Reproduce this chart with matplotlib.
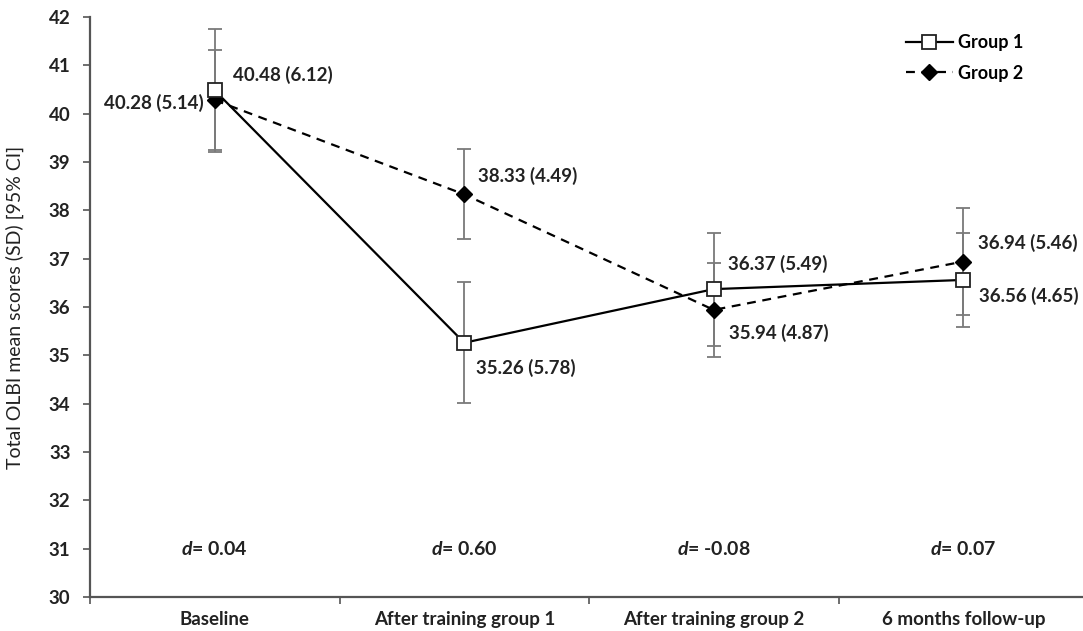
import matplotlib
matplotlib.use("Agg")
import matplotlib.pyplot as plt
import numpy as np

categories = ["Baseline", "After training group 1", "After training group 2", "6 months follow-up"]
g1_mean = [40.48, 35.26, 36.37, 36.56]
g1_sd = [6.12, 5.78, 5.49, 4.65]
g1_ci = [1.28, 1.25, 1.17, 0.98]
g2_mean = [40.28, 38.33, 35.94, 36.94]
g2_sd = [5.14, 4.49, 4.87, 5.46]
g2_ci = [1.04, 0.93, 0.98, 1.11]
d_values = ["0.04", "0.60", "-0.08", "0.07"]
yticks = list(range(30, 43))

plt.rcParams['font.family'] = ['Lato', 'DejaVu Sans']
plt.rcParams['mathtext.fontset'] = 'custom'
plt.rcParams['mathtext.it'] = 'Lato:bold:italic'
plt.rcParams['mathtext.rm'] = 'Lato:bold'

W, H = 1083, 631
fig = plt.figure(figsize=(W / 100, H / 100), dpi=100)
x0, x1 = 90, 1088
y_top, y_bot = 17, 597
ax = fig.add_axes([x0 / W, (H - y_bot) / H, (x1 - x0) / W, (y_bot - y_top) / H])

x = np.arange(len(categories))
ecol = "#7a7a7a"
ax.errorbar(x, g1_mean, yerr=g1_ci, fmt='none', ecolor=ecol, elinewidth=1.3,
            capsize=5, capthick=1.3, zorder=2)
ax.errorbar(x, g2_mean, yerr=g2_ci, fmt='none', ecolor=ecol, elinewidth=1.3,
            capsize=5, capthick=1.3, zorder=2)
ax.plot(x, g1_mean, color='black', lw=1.6, marker='s', markersize=10,
        markerfacecolor='white', markeredgecolor='#222222', markeredgewidth=1.3,
        label='Group 1', zorder=4)
ax.plot(x, g2_mean, color='black', lw=1.6, ls=(0, (4, 3)), marker='D', markersize=8,
        markerfacecolor='black', markeredgecolor='black', label='Group 2', zorder=3)

ax.set_xlim(-0.5, 3.5)
ax.set_ylim(30, 42)
ax.set_yticks(yticks)
ax.set_yticklabels([str(t) for t in yticks], fontsize=13.5, fontweight='bold', color='#222222')
ax.set_xticks(x)
ax.set_xticklabels(categories, fontsize=13.5, fontweight='bold', color='#222222')
ax.set_xticks(np.arange(-0.5, 3.6, 1.0), minor=True)
ax.tick_params(axis='x', which='major', length=0, pad=10)
ax.tick_params(axis='x', which='minor', length=5, width=1.2, color='#555555', direction='out')
ax.tick_params(axis='y', length=5, width=1.2, color='#555555', direction='out', pad=9)
for s in ['top', 'right']:
    ax.spines[s].set_visible(False)
for s in ['left', 'bottom']:
    ax.spines[s].set_color('#555555')
    ax.spines[s].set_linewidth(1.6)
ax.set_ylabel("Total OLBI mean scores (SD) [95% CI]", fontsize=14, color='#222222')
ax.yaxis.set_label_coords(-0.066, 0.5)

def lab(xi, m, sd, dx, dy, ha):
    ax.annotate(f"{m:.2f} ({sd:.2f})", (xi, m), xytext=(dx, dy), textcoords='offset pixels',
                ha=ha, va='center', fontsize=13.5, fontweight='bold', color='#222222')

g1_off = [(18, 16, 'left'), (12, -25, 'left'), (14, 25, 'left'), (16, -16, 'left')]
g2_off = [(-11, -3, 'right'), (14, 18, 'left'), (15, -23, 'left'), (15, 19, 'left')]
for i in range(4):
    lab(x[i], g1_mean[i], g1_sd[i], *g1_off[i])
    lab(x[i], g2_mean[i], g2_sd[i], *g2_off[i])

for i in range(4):
    ax.text(x[i], 31, f"$d$= {d_values[i]}", ha='center', va='center', fontsize=14,
            fontweight='bold', color='#222222')

ax.legend(loc='upper right', bbox_to_anchor=(1040 / W, 1 - 18 / H), bbox_transform=fig.transFigure,
          frameon=False, prop={'weight': 'bold', 'size': 13}, handlelength=2.6,
          labelspacing=0.75, handletextpad=0.3)

fig.savefig("out.png", dpi=100)
